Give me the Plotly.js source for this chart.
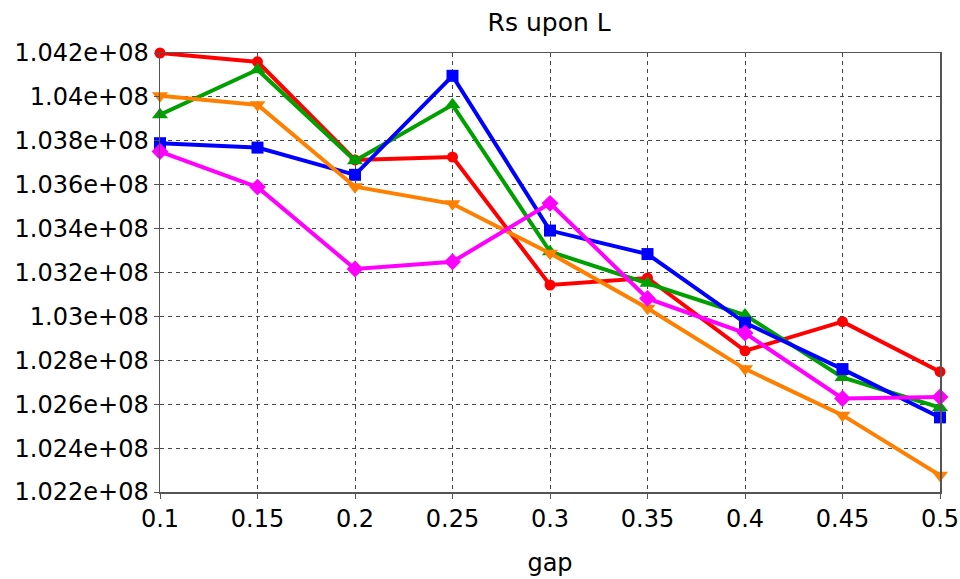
<!DOCTYPE html>
<html>
<head>
<meta charset="utf-8">
<script src="https://cdn.plot.ly/plotly-3.0.1.min.js"></script>
<style>html,body{margin:0;padding:0;background:#fff;}#chart{width:960px;height:579px;}</style>
</head>
<body>
<div id="chart"></div>
<script>
var gap = [0.1, 0.15, 0.2, 0.25, 0.3, 0.35, 0.4, 0.45, 0.5];
var redVals = [1.04200e8, 1.04160e8, 1.03713e8, 1.03726e8, 1.03143e8, 1.03175e8, 1.02843e8, 1.02976e8, 1.02748e8];
var greenVals = [1.03919e8, 1.04124e8, 1.03709e8, 1.03964e8, 1.03295e8, 1.03151e8, 1.03006e8, 1.02722e8, 1.02585e8];
var blueVals = [1.03789e8, 1.03769e8, 1.03645e8, 1.04096e8, 1.03391e8, 1.03284e8, 1.02971e8, 1.02760e8, 1.02540e8];
var orangeVals = [1.04005e8, 1.03964e8, 1.03591e8, 1.03513e8, 1.03288e8, 1.03037e8, 1.02761e8, 1.02550e8, 1.02276e8];
var magentaVals = [1.03751e8, 1.03589e8, 1.03216e8, 1.03249e8, 1.03515e8, 1.03082e8, 1.02924e8, 1.02626e8, 1.02633e8];
var yTickVals = [1.022e8, 1.024e8, 1.026e8, 1.028e8, 1.03e8, 1.032e8, 1.034e8, 1.036e8, 1.038e8, 1.04e8, 1.042e8];
var yTickText = ["1.022e+08", "1.024e+08", "1.026e+08", "1.028e+08", "1.03e+08", "1.032e+08", "1.034e+08", "1.036e+08", "1.038e+08", "1.04e+08", "1.042e+08"];
var xTickVals = [0.1, 0.15, 0.2, 0.25, 0.3, 0.35, 0.4, 0.45, 0.5];
var xTickText = ["0.1", "0.15", "0.2", "0.25", "0.3", "0.35", "0.4", "0.45", "0.5"];

function tr(y, color, symbol, size) {
  return {x: gap, y: y, type: 'scatter', mode: 'lines+markers', cliponaxis: false,
    line: {color: color, width: 4}, marker: {color: color, symbol: symbol, size: size}};
}
var data = [
  tr(redVals, '#ff0000', 'circle', 11),
  tr(greenVals, '#00a000', 'triangle-up', 14),
  tr(blueVals, '#0000ff', 'square', 12),
  tr(orangeVals, '#ff8000', 'triangle-down', 14),
  tr(magentaVals, '#ff00ff', 'diamond', 13)
];
var fam = 'DejaVu Sans, Tahoma, sans-serif';
var layout = {
  width: 960, height: 579,
  margin: {l: 160, r: 20, t: 53, b: 87},
  paper_bgcolor: '#fff', plot_bgcolor: '#fff',
  showlegend: false,
  font: {family: fam, size: 20, color: '#000'},
  title: {text: 'Rs upon L', x: 0.572, xanchor: 'center', y: 0.962, yanchor: 'middle', font: {family: fam, size: 25, color: '#000'}},
  xaxis: {
    range: [0.1, 0.5], tickvals: xTickVals, ticktext: xTickText,
    showline: true, mirror: true, linecolor: '#555', linewidth: 1.5,
    showgrid: true, gridcolor: '#444', griddash: '4px,4px', gridwidth: 1,
    ticks: 'outside', ticklen: 5, tickcolor: '#555', zeroline: false,
    tickfont: {family: fam, size: 24, color: '#000'},
    title: {text: 'gap', font: {family: fam, size: 24, color: '#000'}, standoff: 22}
  },
  yaxis: {
    range: [1.022e8, 1.042e8], tickvals: yTickVals, ticktext: yTickText,
    showline: true, mirror: true, linecolor: '#555', linewidth: 1.5,
    showgrid: true, gridcolor: '#444', griddash: '4px,4px', gridwidth: 1,
    ticks: 'outside', ticklen: 5, tickcolor: '#555', zeroline: false,
    tickfont: {family: fam, size: 24, color: '#000'}
  }
};
Plotly.newPlot('chart', data, layout, {displayModeBar: false, staticPlot: true});
</script>
</body>
</html>
